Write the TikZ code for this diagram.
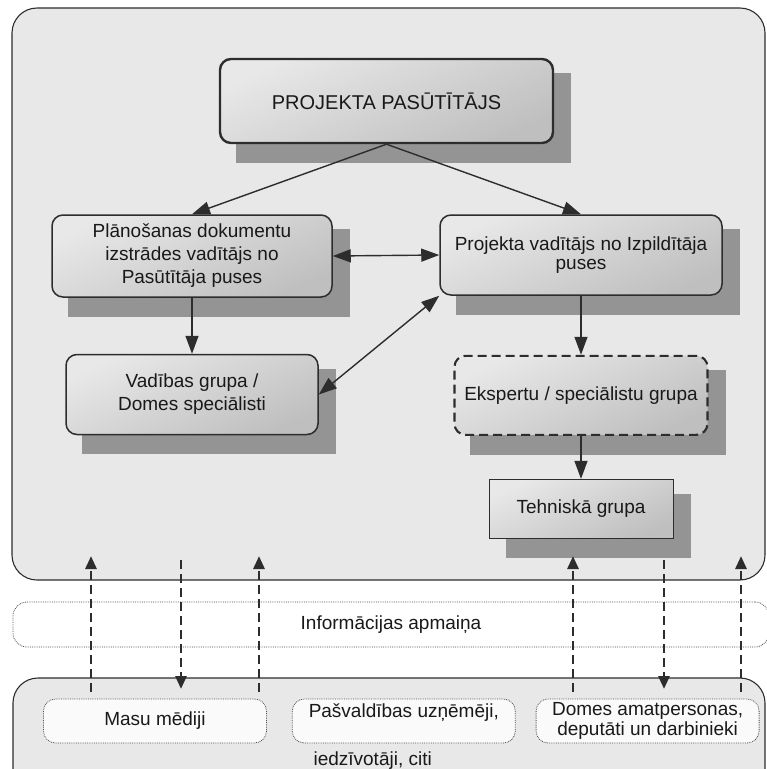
\documentclass[tikz,border=0pt]{standalone}
\usepackage{fontspec}
\setmainfont{Liberation Sans}
\usepackage{tikz}
\usetikzlibrary{arrows.meta,positioning,calc,backgrounds}
\definecolor{LineGrey}{RGB}{45,45,45}
\definecolor{PanelGrey}{RGB}{232,232,232}
\definecolor{ShadeGrey}{RGB}{148,148,148}
\pgfdeclarelayer{shade}
\pgfsetlayers{background,shade,main}

\begin{document}
\begin{tikzpicture}[x=1pt,y=-1pt,>={Triangle[length=18pt,width=13pt]},every node/.style={font=\fontsize{19}{23}\selectfont,text=black!90}]
\tikzset{cblock/.style={draw=LineGrey,line width=1.5pt,rounded corners=11pt,top color=gray!18,bottom color=gray!50,shading angle=25,align=center,inner sep=0pt},
  panel/.style={draw=LineGrey,line width=1.1pt,rounded corners=25pt,fill=PanelGrey},
  band/.style={draw=gray!60!black,densely dotted,line width=0.8pt,rounded corners=14pt,fill=white},
  pbox/.style={draw=gray!60!black,densely dotted,line width=0.8pt,rounded corners=12pt,fill=gray!4,minimum width=223pt,minimum height=44pt,align=center,inner sep=0pt},
  link/.style={draw=LineGrey,line width=1.4pt,fill=LineGrey},
  infoflow/.style={draw=LineGrey,line width=2.8pt,dash pattern=on 9pt off 5pt,-{Triangle[length=13pt,width=11pt]}}}
\useasboundingbox (0,0) rectangle (767,769);
\clip (0,0) rectangle (767,769);
\begin{pgfonlayer}{background}
\node[panel,minimum width=753pt,minimum height=572pt] (upper) at (388.5,294) {};
\node[panel,minimum width=752pt,minimum height=170pt] (lower) at (389,763) {};
\end{pgfonlayer}
\node[band,minimum width=756pt,minimum height=45pt] (info) at (391,624.5) {Informācijas apmaiņa};
\node[cblock,line width=2.4pt,minimum width=333pt,minimum height=84pt,font=\fontsize{20}{23}\selectfont] (client) at (386.5,101) {PROJEKTA PASŪTĪTĀJS};
\node[cblock,minimum width=280pt,minimum height=82pt] (planner) at (192,256) {Plānošanas dokumentu\\izstrādes vadītājs no\\Pasūtītāja puses};
\node[cblock,minimum width=252pt,minimum height=80pt,below=56pt of planner] (steering) {Vadības grupa /\\Domes speciālisti};
\node[cblock,minimum width=282pt,minimum height=80pt,font=\fontsize{19}{19}\selectfont] (manager) at (581,255) {Projekta vadītājs no Izpildītāja\\puses};
\node[cblock,line width=2.1pt,dash pattern=on 9pt off 5pt,minimum width=253pt,minimum height=79pt,below=59pt of manager] (experts) {Ekspertu / speciālistu grupa};
\node[cblock,sharp corners,line width=1pt,minimum width=184pt,minimum height=59pt,below=43pt of experts] (technical) {Tehniskā grupa};
\begin{pgfonlayer}{shade}
\foreach \n in {client,planner,steering,manager,experts,technical}
  \fill[ShadeGrey] ($(\n.north west)+(17,15)$) rectangle ($(\n.south east)+(17,19)$);
\end{pgfonlayer}
\node[pbox] (media) at (155,721) {Masu mēdiji};
\node[pbox,right=25pt of media,text depth=20pt] (business) {Pašvaldības uzņēmēji,};
\node[anchor=west] (residents) at (310,761) {iedzīvotāji, citi};
\node[pbox,right=20pt of business,font=\fontsize{19}{20}\selectfont] (council) {Domes amatpersonas,\\deputāti un darbinieki};
\draw[link,->] (client.south)--(planner.north);
\draw[link,->] (client.south)--(manager.north);
\draw[link,<->] (planner.east)--(manager.west);
\draw[link,<->] (steering.east)--(manager.south west);
\draw[link,->] (planner.south)--(steering.north);
\draw[link,->] (manager.south)--(experts.north);
\draw[link,->] (experts.south)--(technical.north);
\foreach \x/\n in {91/a,259/b,573/c,741/d} {
  \coordinate (\n from) at (\x,692);
  \coordinate (\n to) at (\x,556);
  \draw[infoflow] (\n from)--(\n to);
}
\foreach \x/\n in {181/e,664/f} {
  \coordinate (\n from) at (\x,560);
  \coordinate (\n to) at (\x,689);
  \draw[infoflow] (\n from)--(\n to);
}
\end{tikzpicture}
\end{document}
